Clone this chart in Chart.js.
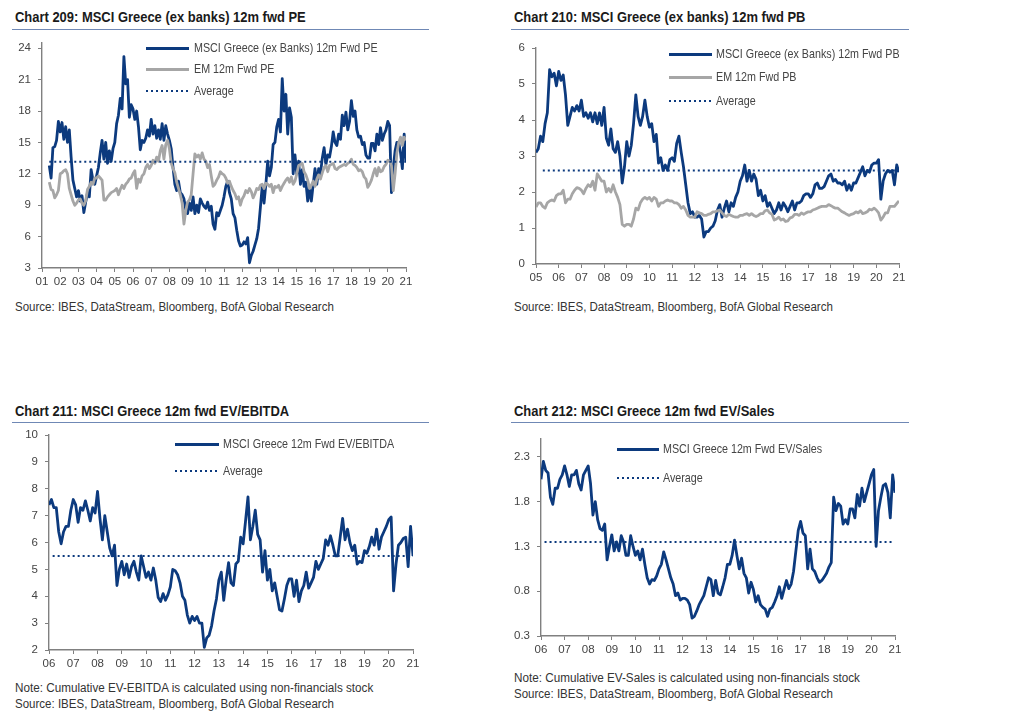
<!DOCTYPE html>
<html>
<head>
<meta charset="utf-8">
<title>MSCI Greece valuations</title>
<script src="https://cdn.jsdelivr.net/npm/chart.js@4"></script>
<style>
  html, body { margin: 0; background: #fff; }
  body { position: relative; width: 1016px; height: 728px; overflow: hidden; font-family: "Liberation Sans", Arial, sans-serif; }
  canvas { position: absolute; display: block; }
  .title, .note, .leg { position: absolute; white-space: nowrap; transform-origin: left center; }
  .title { font: bold 14px "Liberation Sans", Arial, sans-serif; color: #1a1a1a; transform: scaleX(0.925); }
  .rule { position: absolute; height: 1px; background: #6f88b5; }
  .note { font-size: 12px; color: #333; line-height: 16px; transform: scaleX(0.975); }
  .source { transform: scaleX(0.96); }
  .leg { font-size: 13px; color: #444; line-height: 14px; transform: scaleX(0.825); }
  .swatch { position: absolute; }
</style>
</head>
<body>
<script>
const NAVY = '#0c3a7e';
const GREY = '#a6a6a6';
const AXIS = '#808080';

// Chart 209 - one value every 0.1 year, a row per calendar year
const peStart = 2001.4;
const peGreece = [
  12.8,11.6,14.5,14.6,15.2,17,
  16,16.9,15.3,16.5,15,16.2,13.6,11.4,10.6,9.8,
  10.4,9.4,9.9,8.3,9.3,10.2,9.8,12.4,11.4,11,
  11.8,12.6,14,15.2,13.4,15,13,14.2,13.2,14.4,
  15,16.8,17.6,19.2,18.2,23.2,20.6,21,17.4,18.6,
  18.2,17.2,18,16.5,14.3,15.2,15,15.4,16.2,15.6,
  17.2,15.8,16.6,15.4,16.2,15.3,16.8,15.2,16.6,15.8,
  15.2,14.4,12.6,11,10.4,11.3,10.2,10,9.6,8.6,
  8.2,9.2,8.5,9.8,8.2,9,8.3,9.6,9.2,8.9,
  8.7,9.3,8.5,8.9,7.2,6.7,8.3,8,8.5,9,
  9.8,10.8,11.3,10.2,9.6,8.2,7.8,6.6,5.6,5.1,
  5.2,5.5,5.3,5.9,3.5,4.2,4.6,5.2,5.8,6.8,
  8.8,10.8,9.2,11,13.2,11.8,12.6,14.8,15,16.5,
  17.2,16,21.1,18,19.6,15.8,18.3,17.4,12,13.8,
  12,13.2,11,12.4,10.8,11.2,9.4,10.6,9.4,11,
  12.5,11,12.5,12,13.5,14.5,12.9,13.8,13.6,14.6,
  16,15,14.7,15.8,15.3,17.6,16.6,17.9,16.2,17,
  19,17.5,18,16.2,15.5,15.6,14.8,15,13.8,13.5,
  13.5,14.9,14.9,14.2,15.8,14.8,16.4,15.2,15.8,16.2,
  17,16.6,10.2,12.6,14.2,15,15,14,12.5,15.8,13.2
];
const peEm = [
  11.2,10.5,10.4,9.7,10,10.4,
  12,12.1,12.3,12.4,12,10.6,10,9.4,9,9.2,
  9.5,9.6,9.2,9,9.4,10.5,10.8,11.2,11,11.6,
  11.6,11.8,11.6,11.4,9.5,9.5,9.8,10,10.2,10.3,
  10.4,10.6,10,10.5,10.9,10.6,11,11.2,11.5,11.6,
  12,12.3,10.6,11.5,11.2,11.8,12,12.6,12.9,12.5,
  12.8,13.3,13,13.6,13.2,14.2,14.7,13.4,14.8,15.2,
  14.4,13,12.5,12.1,11.2,10.6,10,9.2,7.2,8.5,
  9.3,9.5,10,12,13.9,13.6,13.8,13.4,14,13.4,
  13.2,12.6,12.9,11.8,10.8,11,11.4,11.7,12.2,12,
  11.9,11.6,11.1,11.3,10.8,10.4,10.1,9.6,9.8,9,
  9.6,9.9,10.4,10.2,10.6,10.3,9.7,10.1,10.6,10.5,
  10.9,11,10.6,11.1,11,10.8,11,10.2,10.8,10.7,
  10.9,10.4,10.8,11.1,11.4,11.6,11.2,11.7,11,11.3,
  12,12.8,12.9,13,12.2,11.9,11.4,10.6,10.9,11.3,
  10.8,11.5,11.9,11.5,12.1,12.6,12.8,12.2,12.8,12.9,
  13,12.5,12.4,12.6,12.7,12.8,12.9,12.8,13,13.1,
  13.4,12.9,12.8,12.6,12.3,12.4,12.2,11.7,11.5,10.7,
  11,11.4,12,12.5,11.8,12.6,12.2,12.3,12.7,12.9,
  13.3,13.2,12.8,10.4,12,14,15,15.5,14.7,15.5,15.2
];
const peAverage = 13.15;
const peYTicks = [3, 6, 9, 12, 15, 18, 21, 24];
const peYears = [2001,2002,2003,2004,2005,2006,2007,2008,2009,2010,2011,2012,2013,2014,2015,2016,2017,2018,2019,2020,2021];

// Chart 210
const pbStart = 2005;
const pbGreece = [
  3.1,3.2,3.55,3.4,3.9,4.2,5.4,5.2,5.3,4.95,
  5.35,5.1,5.25,4.7,3.85,4.1,4.35,4.25,4.4,4.25,
  4.55,4.1,4.2,4.05,4.2,3.95,4.2,3.9,4.2,3.85,
  4.35,3.5,3.3,3.75,3.2,3.1,3.4,3,2.25,2.7,
  3.4,3,3.3,3.9,4.7,4.1,3.85,4.1,4.55,4.1,
  3.8,3.9,3.4,3.6,2.8,2.95,2.6,2.75,2.6,2.9,
  2.95,2.85,3.35,3.55,3.1,2.7,2.2,1.7,1.4,1.45,
  1.3,1.3,1.35,1.25,.75,.9,.9,1,1.05,1.2,
  1.5,1.65,1.3,1.55,1.75,1.45,1.7,1.6,1.85,2,
  2.3,2.45,2.75,2.3,2.6,2.3,2.5,2.35,1.9,2.05,
  1.75,1.9,1.6,1.7,1.55,1.4,1.5,1.7,1.5,1.7,
  1.6,1.45,1.6,1.75,1.5,1.7,1.7,1.75,1.9,1.95,
  1.95,1.85,1.95,2.2,2.25,2.1,2.1,2.15,2.3,2.45,
  2.5,2.3,2.35,2.25,2.25,2.2,2.3,2.05,2.2,2.05,
  2.25,2.25,2.4,2.55,2.7,2.45,2.6,2.55,2.75,2.8,
  2.8,2.9,1.8,2.3,2.5,2.6,2.55,2.6,2.2,2.75,2.55
];
const pbEm = [
  1.58,1.7,1.7,1.6,1.55,1.7,1.75,1.78,1.75,1.9,
  1.95,1.95,2.05,1.7,1.8,1.8,1.95,2.05,2.12,2.1,
  2.05,1.95,2.1,2.2,2.15,2.3,2.05,2.5,2.4,2.3,
  2.3,2,2.1,2,2.2,2,1.85,1.65,1.1,1.05,
  1.1,1.1,1.05,1.25,1.55,1.5,1.7,1.8,1.85,1.8,
  1.85,1.75,1.85,1.8,1.6,1.7,1.7,1.75,1.78,1.75,
  1.75,1.7,1.7,1.65,1.55,1.6,1.5,1.35,1.3,1.3,
  1.3,1.45,1.42,1.4,1.35,1.35,1.38,1.4,1.45,1.45,
  1.48,1.5,1.42,1.35,1.32,1.38,1.35,1.32,1.3,1.3,
  1.35,1.35,1.38,1.4,1.35,1.4,1.35,1.32,1.35,1.4,
  1.4,1.48,1.5,1.42,1.38,1.22,1.25,1.3,1.22,1.25,
  1.18,1.2,1.28,1.3,1.38,1.38,1.35,1.42,1.38,1.42,
  1.45,1.45,1.5,1.52,1.55,1.58,1.6,1.6,1.6,1.65,
  1.62,1.58,1.55,1.55,1.5,1.45,1.42,1.38,1.35,1.38,
  1.4,1.45,1.42,1.48,1.4,1.42,1.45,1.52,1.5,1.55,
  1.5,1.42,1.22,1.3,1.42,1.42,1.6,1.6,1.6,1.68,1.75
];
const pbAverage = 2.6;
const pbYTicks = [0, 1, 2, 3, 4, 5, 6];
const pbYears = [2005,2006,2007,2008,2009,2010,2011,2012,2013,2014,2015,2016,2017,2018,2019,2020,2021];

// Chart 211
const ebitdaStart = 2006;
const ebitdaGreece = [
  7.4,7.6,7.3,7.3,6.4,5.95,6.4,6.6,6.6,7.2,
  7.6,7.4,6.75,7.3,7.2,7.55,7.2,6.8,7.3,7.1,
  7.9,6.9,6.1,7,6.4,5.8,5.5,5.9,4.4,5,
  5.3,4.8,5.2,4.7,5.1,5.3,4.9,4.6,5.5,5.1,
  4.7,4.9,4.6,5.05,4.6,3.95,3.8,4.1,3.85,4.05,
  4.35,5,4.95,4.8,4.5,4,3.85,3.3,3,3.25,
  3.1,3.25,3,3,2.1,2.45,2.55,2.9,3.45,3.9,
  4.6,4.9,3.85,4.6,5.25,4.5,4.4,5.2,5.3,6.2,
  5.95,6.8,7.7,6.1,6.6,7.2,6.3,6.1,4.9,5.7,
  4.6,5,4.2,4.5,4,3.5,3.45,3.9,4.4,4.65,
  4.65,4,4.6,3.8,4.2,4.4,4.9,4.3,4.5,4.7,
  5.3,5,5.2,5.4,6.1,5.9,6.25,5.9,5.5,5.5,
  6.2,6.9,6.1,6.5,6,5.7,5.9,5.2,5.3,5.25,
  5.7,5.6,5.85,6.2,5.9,6.5,5.75,6.2,6.4,6.6,
  6.85,6.95,4.2,5.2,5.9,6,6.15,6.2,5.1,6.6,5.5
];
const ebitdaAverage = 5.5;
const ebitdaYTicks = [2, 3, 4, 5, 6, 7, 8, 9, 10];
const recentYears = [2006,2007,2008,2009,2010,2011,2012,2013,2014,2015,2016,2017,2018,2019,2020,2021];

// Chart 212
const salesStart = 2006;
const salesGreece = [
  2.05,2.25,2.15,2.12,1.85,1.77,1.95,1.95,2.05,2.1,
  2.2,2.1,1.97,2.1,2.1,2.15,2,1.93,2.1,2.15,
  2.2,2,1.65,1.8,1.6,1.5,1.48,1.55,1.15,1.3,
  1.43,1.25,1.35,1.25,1.42,1.35,1.2,1.2,1.42,1.3,
  1.2,1.25,1.15,1.27,1.1,.95,.88,.93,.92,.97,
  1.05,1.1,1.24,1.15,1.05,.95,.88,.75,.78,.7,
  .72,.72,.7,.65,.5,.52,.58,.65,.7,.75,
  .85,.95,.93,.75,.92,.78,.76,.85,.95,1.1,
  1.1,1.2,1.37,1.2,1.05,1.17,1,.95,.78,.9,
  .82,.68,.75,.65,.62,.6,.52,.6,.62,.68,
  .75,.85,.72,.82,.92,.83,.88,1.02,1.25,1.48,
  1.58,1.45,1.42,1.05,1.27,1.05,1.02,.95,.9,.92,
  .96,1,1.07,1.12,1.85,1.7,1.78,1.75,1.55,1.6,
  1.55,1.72,1.72,1.62,1.88,1.75,1.95,1.8,1.9,2,
  2.1,2.16,1.3,1.7,1.85,1.98,2,1.9,1.62,2.1,1.9
];
const salesAverage = 1.35;
const salesYTicks = [0.3, 0.8, 1.3, 1.8, 2.3];

const peLabels = ['MSCI Greece (ex Banks) 12m Fwd PE', 'EM 12m Fwd PE', 'Average'];
const pbLabels = ['MSCI Greece (ex Banks) 12m Fwd PB', 'EM 12m Fwd PB', 'Average'];
const ebitdaLabels = ['MSCI Greece 12m Fwd EV/EBITDA', 'Average'];
const salesLabels = ['MSCI Greece 12m Fwd EV/Sales', 'Average'];

function toPoints(start, values) {
  return values.map((v, i) => ({ x: start + i * 0.1, y: v }));
}

function solidSet(label, start, values, color, order) {
  return {
    label, data: toPoints(start, values), borderColor: color, borderWidth: 2.8,
    borderJoinStyle: 'round', pointRadius: 0, tension: 0, order
  };
}

function averageSet(label, from, to, value) {
  return {
    label,
    data: [{ x: from, y: value }, { x: to, y: value }],
    borderColor: NAVY, borderWidth: 2, borderDash: [2, 3], pointRadius: 0, order: 0
  };
}

// plot = pixel box of the axes on the page
function drawChart(plot, datasets, years, yTicks, yMin, yMax, decimals) {
  const mLeft = 45, mRight = 20, mTop = 8, mBottom = 26;
  const canvas = document.createElement('canvas');
  canvas.width = plot.right - plot.left + mLeft + mRight;
  canvas.height = plot.bottom - plot.top + mTop + mBottom;
  canvas.style.left = (plot.left - mLeft) + 'px';
  canvas.style.top = (plot.top - mTop) + 'px';
  document.body.appendChild(canvas);

  const tickFont = { family: '"Liberation Sans", Arial, sans-serif', size: 11.5 };
  return new Chart(canvas.getContext('2d'), {
    type: 'line',
    data: { datasets },
    options: {
      responsive: false,
      animation: false,
      layout: { padding: { top: mTop, right: mRight } },
      plugins: { legend: { display: false }, tooltip: { enabled: false } },
      scales: {
        x: {
          type: 'linear',
          min: years[0],
          max: years[years.length - 1],
          afterFit: s => { s.height = mBottom; },
          afterBuildTicks: s => { s.ticks = years.map(v => ({ value: v })); },
          border: { color: AXIS, width: 1.4 },
          grid: { drawOnChartArea: false, color: AXIS, tickLength: 4 },
          ticks: {
            font: tickFont, color: '#444', padding: 3, maxRotation: 0, autoSkip: false,
            callback: v => String(v).slice(2)
          }
        },
        y: {
          min: yMin,
          max: yMax,
          // paddingTop would push the axis top down past the layout padding
          afterFit: s => { s.width = mLeft; s.paddingTop = 0; s.paddingBottom = 0; },
          afterBuildTicks: s => { s.ticks = yTicks.map(v => ({ value: v })); },
          border: { color: AXIS, width: 1.4 },
          grid: { drawOnChartArea: false, color: AXIS, tickLength: 4 },
          ticks: {
            font: tickFont, color: '#444', padding: 7, autoSkip: false,
            callback: v => v.toFixed(decimals)
          }
        }
      }
    }
  });
}

function addText(cls, x, y, text) {
  const el = document.createElement('div');
  el.className = cls;
  el.style.left = x + 'px';
  el.style.top = y + 'px';
  el.textContent = text;
  document.body.appendChild(el);
}

function addRule(x, y, w) {
  const el = document.createElement('div');
  el.className = 'rule';
  el.style.cssText = `left:${x}px;top:${y}px;width:${w}px`;
  document.body.appendChild(el);
}

// legend rows follow the datasets of the chart
function addLegend(chart, sampleX, sampleW, textX, rowsY) {
  chart.data.datasets.forEach((ds, i) => {
    const s = document.createElement('div');
    s.className = 'swatch';
    const h = ds.borderDash ? 2 : 3;
    const paint = ds.borderDash
      ? `repeating-linear-gradient(90deg, ${ds.borderColor} 0 2px, transparent 2px 5px)`
      : ds.borderColor;
    s.style.cssText = `left:${sampleX}px;top:${rowsY[i] - h / 2}px;width:${sampleW}px;height:${h}px;background:${paint}`;
    document.body.appendChild(s);
    addText('leg', textX, rowsY[i] - 7, ds.label);
  });
}

addText('title', 15, 9, 'Chart 209: MSCI Greece (ex banks) 12m fwd PE');
addRule(12, 29, 417);
const chart209 = drawChart({ left: 42, right: 406, top: 43, bottom: 268 }, [
  solidSet(peLabels[0], peStart, peGreece, NAVY, 2),
  solidSet(peLabels[1], peStart, peEm, GREY, 1),
  averageSet(peLabels[2], peStart, 2021, peAverage)
], peYears, peYTicks, 3, 24.5, 0);
addLegend(chart209, 146, 43, 194, [48, 69, 91]);
addText('note source', 15, 299, 'Source: IBES, DataStream, Bloomberg, BofA Global Research');

addText('title', 513.5, 9, 'Chart 210: MSCI Greece (ex banks) 12m fwd PB');
addRule(511, 29, 398);
const chart210 = drawChart({ left: 536, right: 899, top: 48, bottom: 264 }, [
  solidSet(pbLabels[0], pbStart, pbGreece, NAVY, 2),
  solidSet(pbLabels[1], pbStart, pbEm, GREY, 1),
  averageSet(pbLabels[2], 2005.3, 2020.9, pbAverage)
], pbYears, pbYTicks, 0, 6, 0);
addLegend(chart210, 669, 43, 716, [54, 77, 101]);
addText('note source', 513.5, 299, 'Source: IBES, DataStream, Bloomberg, BofA Global Research');

addText('title', 15, 403, 'Chart 211: MSCI Greece 12m fwd EV/EBITDA');
addRule(12, 422, 417);
const chart211 = drawChart({ left: 49, right: 413, top: 435, bottom: 650 }, [
  solidSet(ebitdaLabels[0], ebitdaStart, ebitdaGreece, NAVY, 2),
  averageSet(ebitdaLabels[1], 2006.15, 2021, ebitdaAverage)
], recentYears, ebitdaYTicks, 2, 10, 0);
addLegend(chart211, 175, 44, 223, [444, 471]);
addText('note', 15, 680, 'Note: Cumulative EV-EBITDA is calculated using non-financials stock');
addText('note source', 15, 696, 'Source: IBES, DataStream, Bloomberg, BofA Global Research');

addText('title', 513.5, 403, 'Chart 212: MSCI Greece 12m fwd EV/Sales');
addRule(511, 422, 398);
const chart212 = drawChart({ left: 541, right: 895, top: 439, bottom: 636 }, [
  solidSet(salesLabels[0], salesStart, salesGreece, NAVY, 2),
  averageSet(salesLabels[1], 2006.15, 2020.95, salesAverage)
], recentYears, salesYTicks, 0.3, 2.5, 1);
addLegend(chart212, 617, 42, 663, [449, 478]);
addText('note', 513.5, 670, 'Note: Cumulative EV-Sales is calculated using non-financials stock');
addText('note source', 513.5, 686, 'Source: IBES, DataStream, Bloomberg, BofA Global Research');
</script>
</body>
</html>
